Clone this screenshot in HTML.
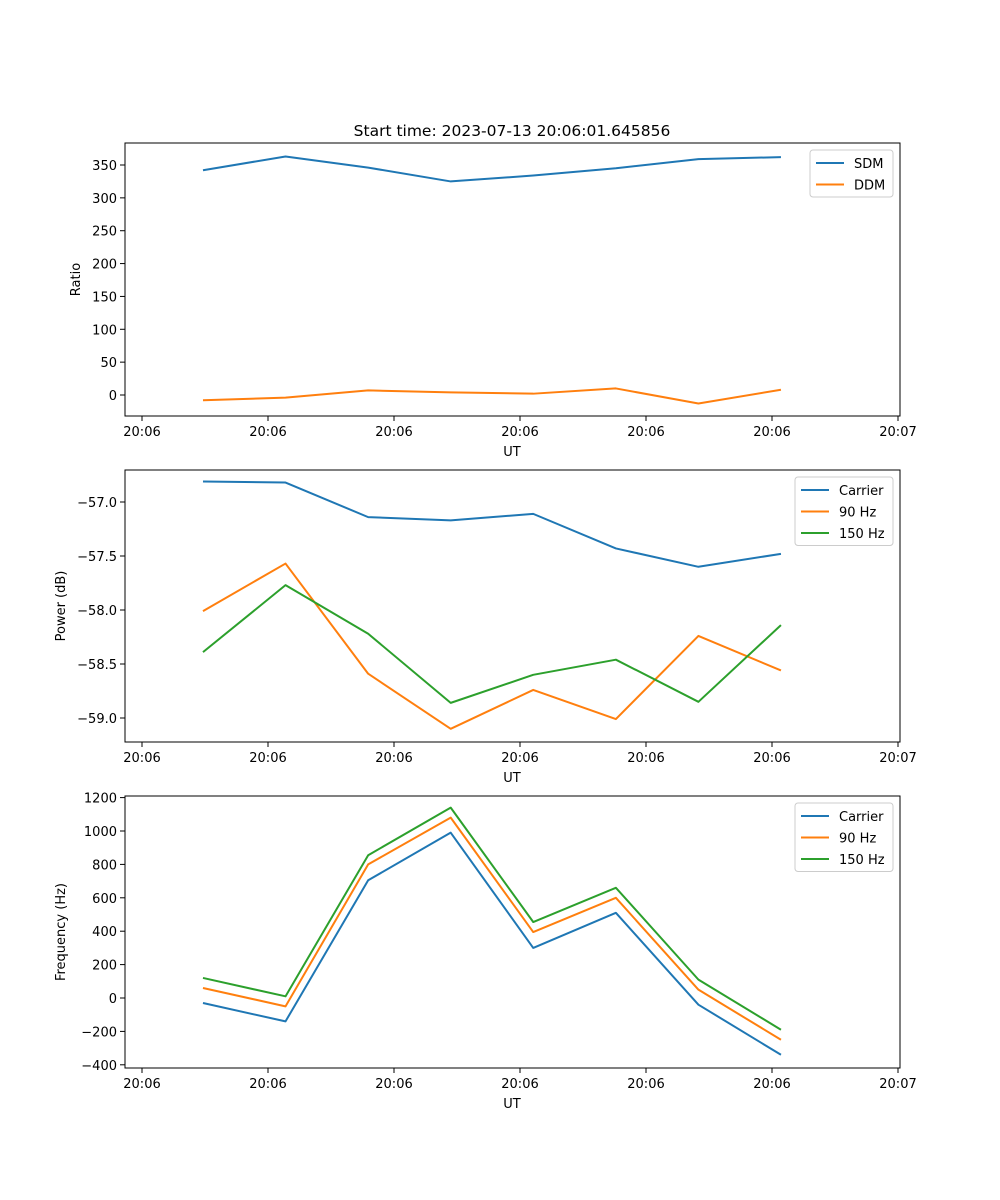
<!DOCTYPE html>
<html><head><meta charset="utf-8">
<style>
html,body{margin:0;padding:0;background:#fff;}
svg{display:block;font-family:"DejaVu Sans","Liberation Sans",sans-serif;}
</style></head>
<body>
<svg id="fig" width="1000" height="1200" viewBox="0 0 1000 1200">
<rect width="1000" height="1200" fill="#fff"/>
<text x="512" y="136" font-size="15.5" text-anchor="middle">Start time: 2023-07-13 20:06:01.645856</text>
</svg>
<script>
const times = [0.484, 1.139, 1.795, 2.45, 3.105, 3.761, 4.416, 5.071];
const xTickVals = [0,1,2,3,4,5,6];
const xTickLabels = ["20:06","20:06","20:06","20:06","20:06","20:06","20:07"];

const sdm = [342, 363, 346, 325, 334, 345, 359, 362];
const ddm = [-8, -4, 7, 4, 2, 10, -13, 8];
const ratioTicks = [0,50,100,150,200,250,300,350];

const powCarrier = [-56.81, -56.82, -57.14, -57.17, -57.11, -57.43, -57.60, -57.48];
const pow90 = [-58.01, -57.57, -58.59, -59.10, -58.74, -59.01, -58.24, -58.56];
const pow150 = [-58.39, -57.77, -58.22, -58.86, -58.60, -58.46, -58.85, -58.14];
const powTicks = [-59.0, -58.5, -58.0, -57.5, -57.0];

const freqCarrier = [-30, -140, 705, 990, 300, 510, -40, -340];
const freq90 = [60, -50, 800, 1080, 395, 600, 50, -250];
const freq150 = [120, 10, 855, 1140, 455, 660, 110, -190];
const freqTicks = [-400,-200,0,200,400,600,800,1000,1200];

const NS="http://www.w3.org/2000/svg";
const svg=document.getElementById('fig');
function mk(tag,attrs,parent){const e=document.createElementNS(NS,tag);for(const k in attrs)e.setAttribute(k,attrs[k]);(parent||svg).appendChild(e);return e;}
const L=125,R=900;
const xs=u=>142+126*u;
const C1="#1f77b4",C2="#ff7f0e",C3="#2ca02c";

function panel(name,top,bot,yLin,yTicks,fmt,ylabel,series,legend){
  const g=mk('g',{});
  
  
  const ya=mk('g',{},g);
  
  
  yTicks.forEach(v=>{const y=yLin(v);
    mk('line',{x1:L-5,x2:L,y1:y,y2:y,stroke:'#000','stroke-width':1},ya);
    const t=mk('text',{x:L-8,y:y+5,'font-size':13,'text-anchor':'end'},ya);t.textContent=fmt(v);});
  const xa=mk('g',{},g);
  
  
  xTickVals.forEach((v,i)=>{const x=xs(v);
    mk('line',{x1:x,x2:x,y1:bot,y2:bot+5,stroke:'#000','stroke-width':1},xa);
    const t=mk('text',{x:x,y:bot+20,'font-size':13,'text-anchor':'middle'},xa);t.textContent=xTickLabels[i];});
  const xl=mk('text',{x:512,y:bot+40,'font-size':13,'text-anchor':'middle'},g);xl.textContent='UT';
  
  
  const cy=(top+bot)/2, lx=name==='ratio-panel'?80:65;
  const yl=mk('text',{x:lx,y:cy,'font-size':13,'text-anchor':'middle',transform:`rotate(-90 ${lx} ${cy})`},g);yl.textContent=ylabel;
  
  
  series.forEach(s=>{
    const p=mk('polyline',{points:s.vals.map((v,i)=>xs(times[i])+','+yLin(v)).join(' '),fill:'none',stroke:s.c,'stroke-width':2,'stroke-linejoin':'round'},g);
    
    
  });
  mk('rect',{x:L,y:top,width:R-L,height:bot-top,fill:'none',stroke:'#000','stroke-width':1},g);
  const lw=legend.w, lh=legend.items.length*21.5+4, lx0=893-lw, ly0=top+7;
  const lg=mk('g',{},g);
  
  
  mk('rect',{x:lx0,y:ly0,width:lw,height:lh,rx:3,fill:'#fff','fill-opacity':0.8,stroke:'#ccc','stroke-width':1},lg);
  legend.items.forEach((it,i)=>{const y=ly0+13+i*21.5;
    const e=mk('g',{},lg);
    
    
    mk('line',{x1:lx0+6,x2:lx0+34,y1:y,y2:y,stroke:it.c,'stroke-width':2},e);
    const t=mk('text',{x:lx0+44,y:y+5,'font-size':13},e);t.textContent=it.t;});
}

const y1=v=>395-v*(230/350);
panel('ratio-panel',143,416,y1,ratioTicks,v=>String(v),'Ratio',
 [{vals:sdm,c:C1,n:'sdm-line'},{vals:ddm,c:C2,n:'ddm-line'}],
 {w:83,items:[{t:'SDM',c:C1},{t:'DDM',c:C2}]});
const y2=v=>502+(-57-v)*108;
panel('power-panel',470,742,y2,powTicks,v=>'\u2212'+Math.abs(v).toFixed(1),'Power (dB)',
 [{vals:powCarrier,c:C1,n:'power-carrier-line'},{vals:pow90,c:C2,n:'power-90hz-line'},{vals:pow150,c:C3,n:'power-150hz-line'}],
 {w:98,items:[{t:'Carrier',c:C1},{t:'90 Hz',c:C2},{t:'150 Hz',c:C3}]});
const y3=v=>998-v*(33.4/200);
panel('frequency-panel',796,1068,y3,freqTicks,v=>(v<0?'\u2212':'')+Math.abs(v),'Frequency (Hz)',
 [{vals:freqCarrier,c:C1,n:'freq-carrier-line'},{vals:freq90,c:C2,n:'freq-90hz-line'},{vals:freq150,c:C3,n:'freq-150hz-line'}],
 {w:98,items:[{t:'Carrier',c:C1},{t:'90 Hz',c:C2},{t:'150 Hz',c:C3}]});
</script>
</body></html>
